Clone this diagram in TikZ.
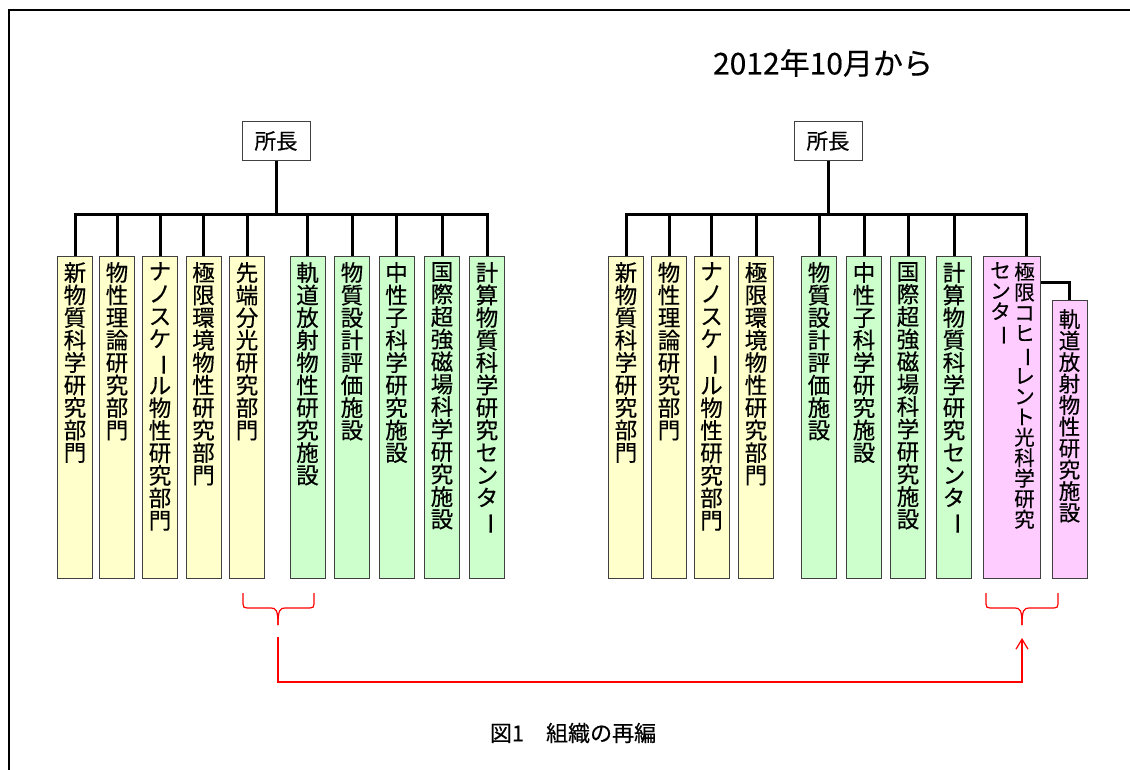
\documentclass[tikz,border=0pt]{standalone}
\usepackage{fontspec}
\setmainfont{Noto Sans CJK JP}[FakeBold=0.4]
\usetikzlibrary{arrows.meta}
\definecolor{ybg}{HTML}{FFFFCC}
\definecolor{gbg}{HTML}{CCFFCC}
\definecolor{mbg}{HTML}{FFCCFF}
\definecolor{bd}{HTML}{404040}
\newcommand\cho{\rotatebox[origin=c]{-90}{ー}}
\makeatletter
\def\vstk#1{\vstk@a#1\vstk@end}
\def\vstk@end{\vstk@end}
\def\vstk@a#1{\ifx#1\vstk@end\else#1\\\expandafter\vstk@a\fi}
\makeatother
\tikzset{
 tree/.style={line width=3pt, line join=miter},
 orgbox/.style={draw=bd, line width=1pt, minimum width=35pt, minimum height=322pt, inner sep=0pt, anchor=north},
 ybox/.style={orgbox, fill=ybg},
 gbox/.style={orgbox, fill=gbg},
 mbox/.style={orgbox, fill=mbg},
 vtxt/.style={anchor=north, align=center, inner sep=0pt, font=\fontsize{22.5}{22.5}\selectfont},
 chief/.style={draw=bd, fill=white, line width=1pt, minimum width=68pt, minimum height=39pt, inner sep=0pt, font=\fontsize{21.5}{24}\selectfont},
 bracket/.style={red, line width=1.2pt},
 link/.style={red, line width=1.6pt},
}
\begin{document}
\begin{tikzpicture}[x=1pt,y=-1pt]
\useasboundingbox (0,0) rectangle (1130,769);
\fill[white] (0,0) rectangle (1130,769);
\draw[line width=2pt] (1131,9.5) -- (8.5,9.5) -- (8.5,770);

\node[font=\fontsize{30}{32}\selectfont] (title) at (823,63) {2012年10月から};
\node[font=\fontsize{22}{24}\selectfont] (cap) at (573,733) {図1　組織の再編};

% ---------- left tree ----------
\node[chief] (bossL) at (276,141) {所長};
\coordinate (barL) at (276,214);
\node[ybox] (L1) at (75,256) {};
\node[ybox] (L2) at (117,256) {};
\node[ybox] (L3) at (160,256) {};
\node[ybox] (L4) at (203.5,256) {};
\node[ybox] (L5) at (247,256) {};
\node[gbox] (L6) at (307.5,256) {};
\node[gbox] (L7) at (352,256) {};
\node[gbox] (L8) at (396.5,256) {};
\node[gbox] (L9) at (442,256) {};
\node[gbox] (L10) at (487,256) {};
\node[vtxt] (tL1) at ([yshift=-6pt]L1.north) {\vstk{新物質科学研究部門}};
\node[vtxt] (tL2) at ([yshift=-6pt]L2.north) {\vstk{物性理論研究部門}};
\node[vtxt] (tL3) at ([yshift=-6pt]L3.north) {\vstk{ナノスケ\cho ル物性研究部門}};
\node[vtxt] (tL4) at ([yshift=-6pt]L4.north) {\vstk{極限環境物性研究部門}};
\node[vtxt] (tL5) at ([yshift=-6pt]L5.north) {\vstk{先端分光研究部門}};
\node[vtxt] (tL6) at ([yshift=-6pt]L6.north) {\vstk{軌道放射物性研究施設}};
\node[vtxt] (tL7) at ([yshift=-6pt]L7.north) {\vstk{物質設計評価施設}};
\node[vtxt] (tL8) at ([yshift=-6pt]L8.north) {\vstk{中性子科学研究施設}};
\node[vtxt] (tL9) at ([yshift=-6pt]L9.north) {\vstk{国際超強磁場科学研究施設}};
\node[vtxt] (tL10) at ([yshift=-6pt]L10.north) {\vstk{計算物質科学研究センタ\cho}};
\draw[tree] (bossL.south) -- (barL);
\draw[tree] (L1.north) -- (L1.north |- barL) -- (L10.north |- barL) -- (L10.north);
\foreach \n in {L2,L3,L4,L5,L6,L7,L8,L9}
  \draw[tree] (\n.north) -- (\n.north |- barL);

% ---------- right tree ----------
\node[chief] (bossR) at (828,141) {所長};
\coordinate (barR) at (828,214);
\node[ybox] (R1) at (626,256) {};
\node[ybox] (R2) at (669,256) {};
\node[ybox] (R3) at (711.5,256) {};
\node[ybox] (R4) at (756,256) {};
\node[gbox] (R5) at (819,256) {};
\node[gbox] (R6) at (864,256) {};
\node[gbox] (R7) at (908,256) {};
\node[gbox] (R8) at (954,256) {};
\node[mbox, minimum width=57pt] (M1) at (1011.5,256) {};
\node[mbox, minimum height=278pt] (M2) at (1069.5,300) {};
\node[vtxt] (tR1) at ([yshift=-6pt]R1.north) {\vstk{新物質科学研究部門}};
\node[vtxt] (tR2) at ([yshift=-6pt]R2.north) {\vstk{物性理論研究部門}};
\node[vtxt] (tR3) at ([yshift=-6pt]R3.north) {\vstk{ナノスケ\cho ル物性研究部門}};
\node[vtxt] (tR4) at ([yshift=-6pt]R4.north) {\vstk{極限環境物性研究部門}};
\node[vtxt] (tR5) at ([yshift=-6pt]R5.north) {\vstk{物質設計評価施設}};
\node[vtxt] (tR6) at ([yshift=-6pt]R6.north) {\vstk{中性子科学研究施設}};
\node[vtxt] (tR7) at ([yshift=-6pt]R7.north) {\vstk{国際超強磁場科学研究施設}};
\node[vtxt] (tR8) at ([yshift=-6pt]R8.north) {\vstk{計算物質科学研究センタ\cho}};
\node[vtxt, font=\fontsize{20.5}{20.5}\selectfont] (tM1a) at (1024.5,262) {\vstk{極限コヒ\cho レント光科学研究}};
\node[vtxt, font=\fontsize{20.5}{20.5}\selectfont] (tM1b) at (1000.5,262) {\vstk{センタ\cho}};
\node[vtxt, font=\fontsize{21.5}{21.5}\selectfont] (tM2) at ([yshift=-9pt]M2.north) {\vstk{軌道放射物性研究施設}};
\draw[tree] (bossR.south) -- (barR);
\draw[tree] (R1.north) -- (R1.north |- barR) -- ([xshift=14.5pt]M1.north |- barR) -- ([xshift=14.5pt]M1.north);
\foreach \n in {R2,R3,R4,R5,R6,R7,R8}
  \draw[tree] (\n.north) -- (\n.north |- barR);
\draw[tree] ([yshift=-26pt]M1.north east) -| (M2.north);

% ---------- red brackets and link ----------
\coordinate (tipL) at (278,625);
\coordinate (tipR) at (1022,625);
\draw[bracket] (243,593) -- (243,604) .. controls (243,607) and (244,608) .. (247,608) -- (271,608) .. controls (276,608) and (278,610) .. (tipL);
\draw[bracket] (314,593) -- (314,604) .. controls (314,607) and (313,608) .. (310,608) -- (285,608) .. controls (280,608) and (278,610) .. (tipL);
\draw[bracket] (986,593) -- (986,604) .. controls (986,607) and (987,608) .. (990,608) -- (1015,608) .. controls (1020,608) and (1022,610) .. (tipR);
\draw[bracket] (1058,593) -- (1058,604) .. controls (1058,607) and (1057,608) .. (1054,608) -- (1029,608) .. controls (1024,608) and (1022,610) .. (tipR);
\draw[link, -{Straight Barb[length=10pt,width=12pt,line width=1.2pt]}] ([yshift=-12pt]tipL) -- ++(0,45) -| ([yshift=-13pt]tipR);
\end{tikzpicture}
\end{document}
